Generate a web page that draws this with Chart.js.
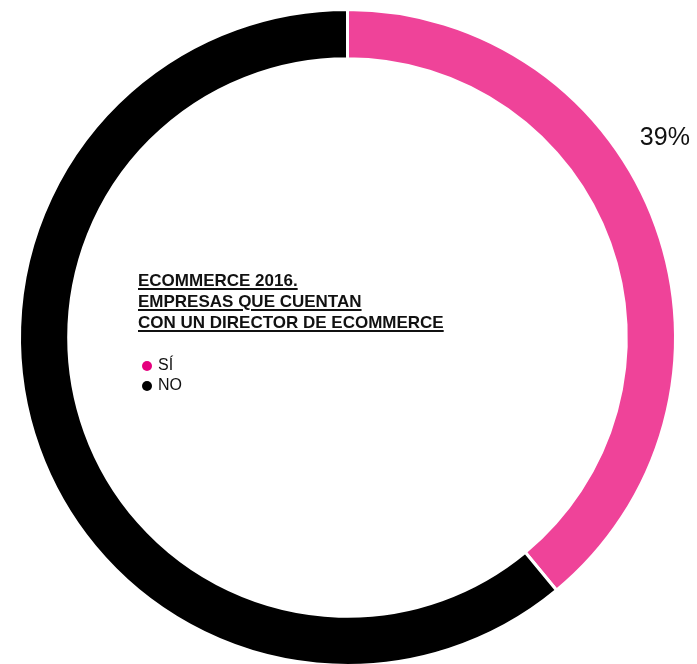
<!DOCTYPE html>
<html>
<head>
<meta charset="utf-8">
<script src="https://cdn.jsdelivr.net/npm/chart.js@4/dist/chart.umd.min.js"></script>
<style>
  html, body { margin: 0; padding: 0; background: #fff; }
  #wrap { position: relative; width: 697px; height: 664px; overflow: hidden; }
  #title {
    position: absolute; left: 138px; top: 270px;
    font-family: "Liberation Sans", Arial, sans-serif;
    font-weight: bold; font-size: 17px; line-height: 21px;
    color: #111; text-decoration: underline; text-underline-offset: 2px;
    text-decoration-thickness: 1.5px;
  }
  #legend {
    position: absolute; left: 142px; top: 355px;
    font-family: "Liberation Sans", Arial, sans-serif;
    font-size: 16px; line-height: 20px; color: #111;
  }
  #legend span.dot {
    display: inline-block; width: 10px; height: 10px; border-radius: 50%;
    margin-right: 6px; vertical-align: -1px;
  }
</style>
</head>
<body>
<div id="wrap">
  <canvas id="chart" width="697" height="680"></canvas>
  <div id="title"></div>
  <div id="legend"></div>
</div>
<script>
const titleLines = ["ECOMMERCE 2016.", "EMPRESAS QUE CUENTAN", "CON UN DIRECTOR DE ECOMMERCE"];
const labels = ["SÍ", "NO"];
const values = [39, 61];
const colors = ["#EF4399", "#000000"];
const legendColors = ["#E5007E", "#000000"];

document.getElementById("title").innerHTML = titleLines.join("<br>");
document.getElementById("legend").innerHTML = labels
  .map((l, i) => `<div><span class="dot" style="background:${legendColors[i]}"></span>${l}</div>`)
  .join("");

// only the first slice gets its percentage drawn, outside the ring
const percentLabel = {
  id: "percentLabel",
  afterDatasetsDraw(chart) {
    const arc = chart.getDatasetMeta(0).data[0];
    const a = arc.startAngle + (arc.endAngle - arc.startAngle) * 0.41;
    const r = arc.outerRadius + 48;
    const ctx = chart.ctx;
    ctx.save();
    ctx.font = "25px 'Liberation Sans', Arial, sans-serif";
    ctx.fillStyle = "#111";
    ctx.textAlign = "center";
    ctx.textBaseline = "middle";
    ctx.fillText(values[0] + "%", arc.x + Math.cos(a) * r, arc.y + Math.sin(a) * r + 2);
    ctx.restore();
  }
};

new Chart(document.getElementById("chart"), {
  type: "doughnut",
  data: {
    labels: labels,
    datasets: [{
      data: values,
      backgroundColor: colors,
      borderColor: "#fff",
      borderWidth: 3,
    }],
  },
  options: {
    responsive: false,
    animation: false,
    cutout: "85%",
    layout: { padding: { left: 18, right: 20, top: 8, bottom: 13 } },
    plugins: {
      legend: { display: false },
      tooltip: { enabled: false },
    },
  },
  plugins: [percentLabel],
});
</script>
</body>
</html>
